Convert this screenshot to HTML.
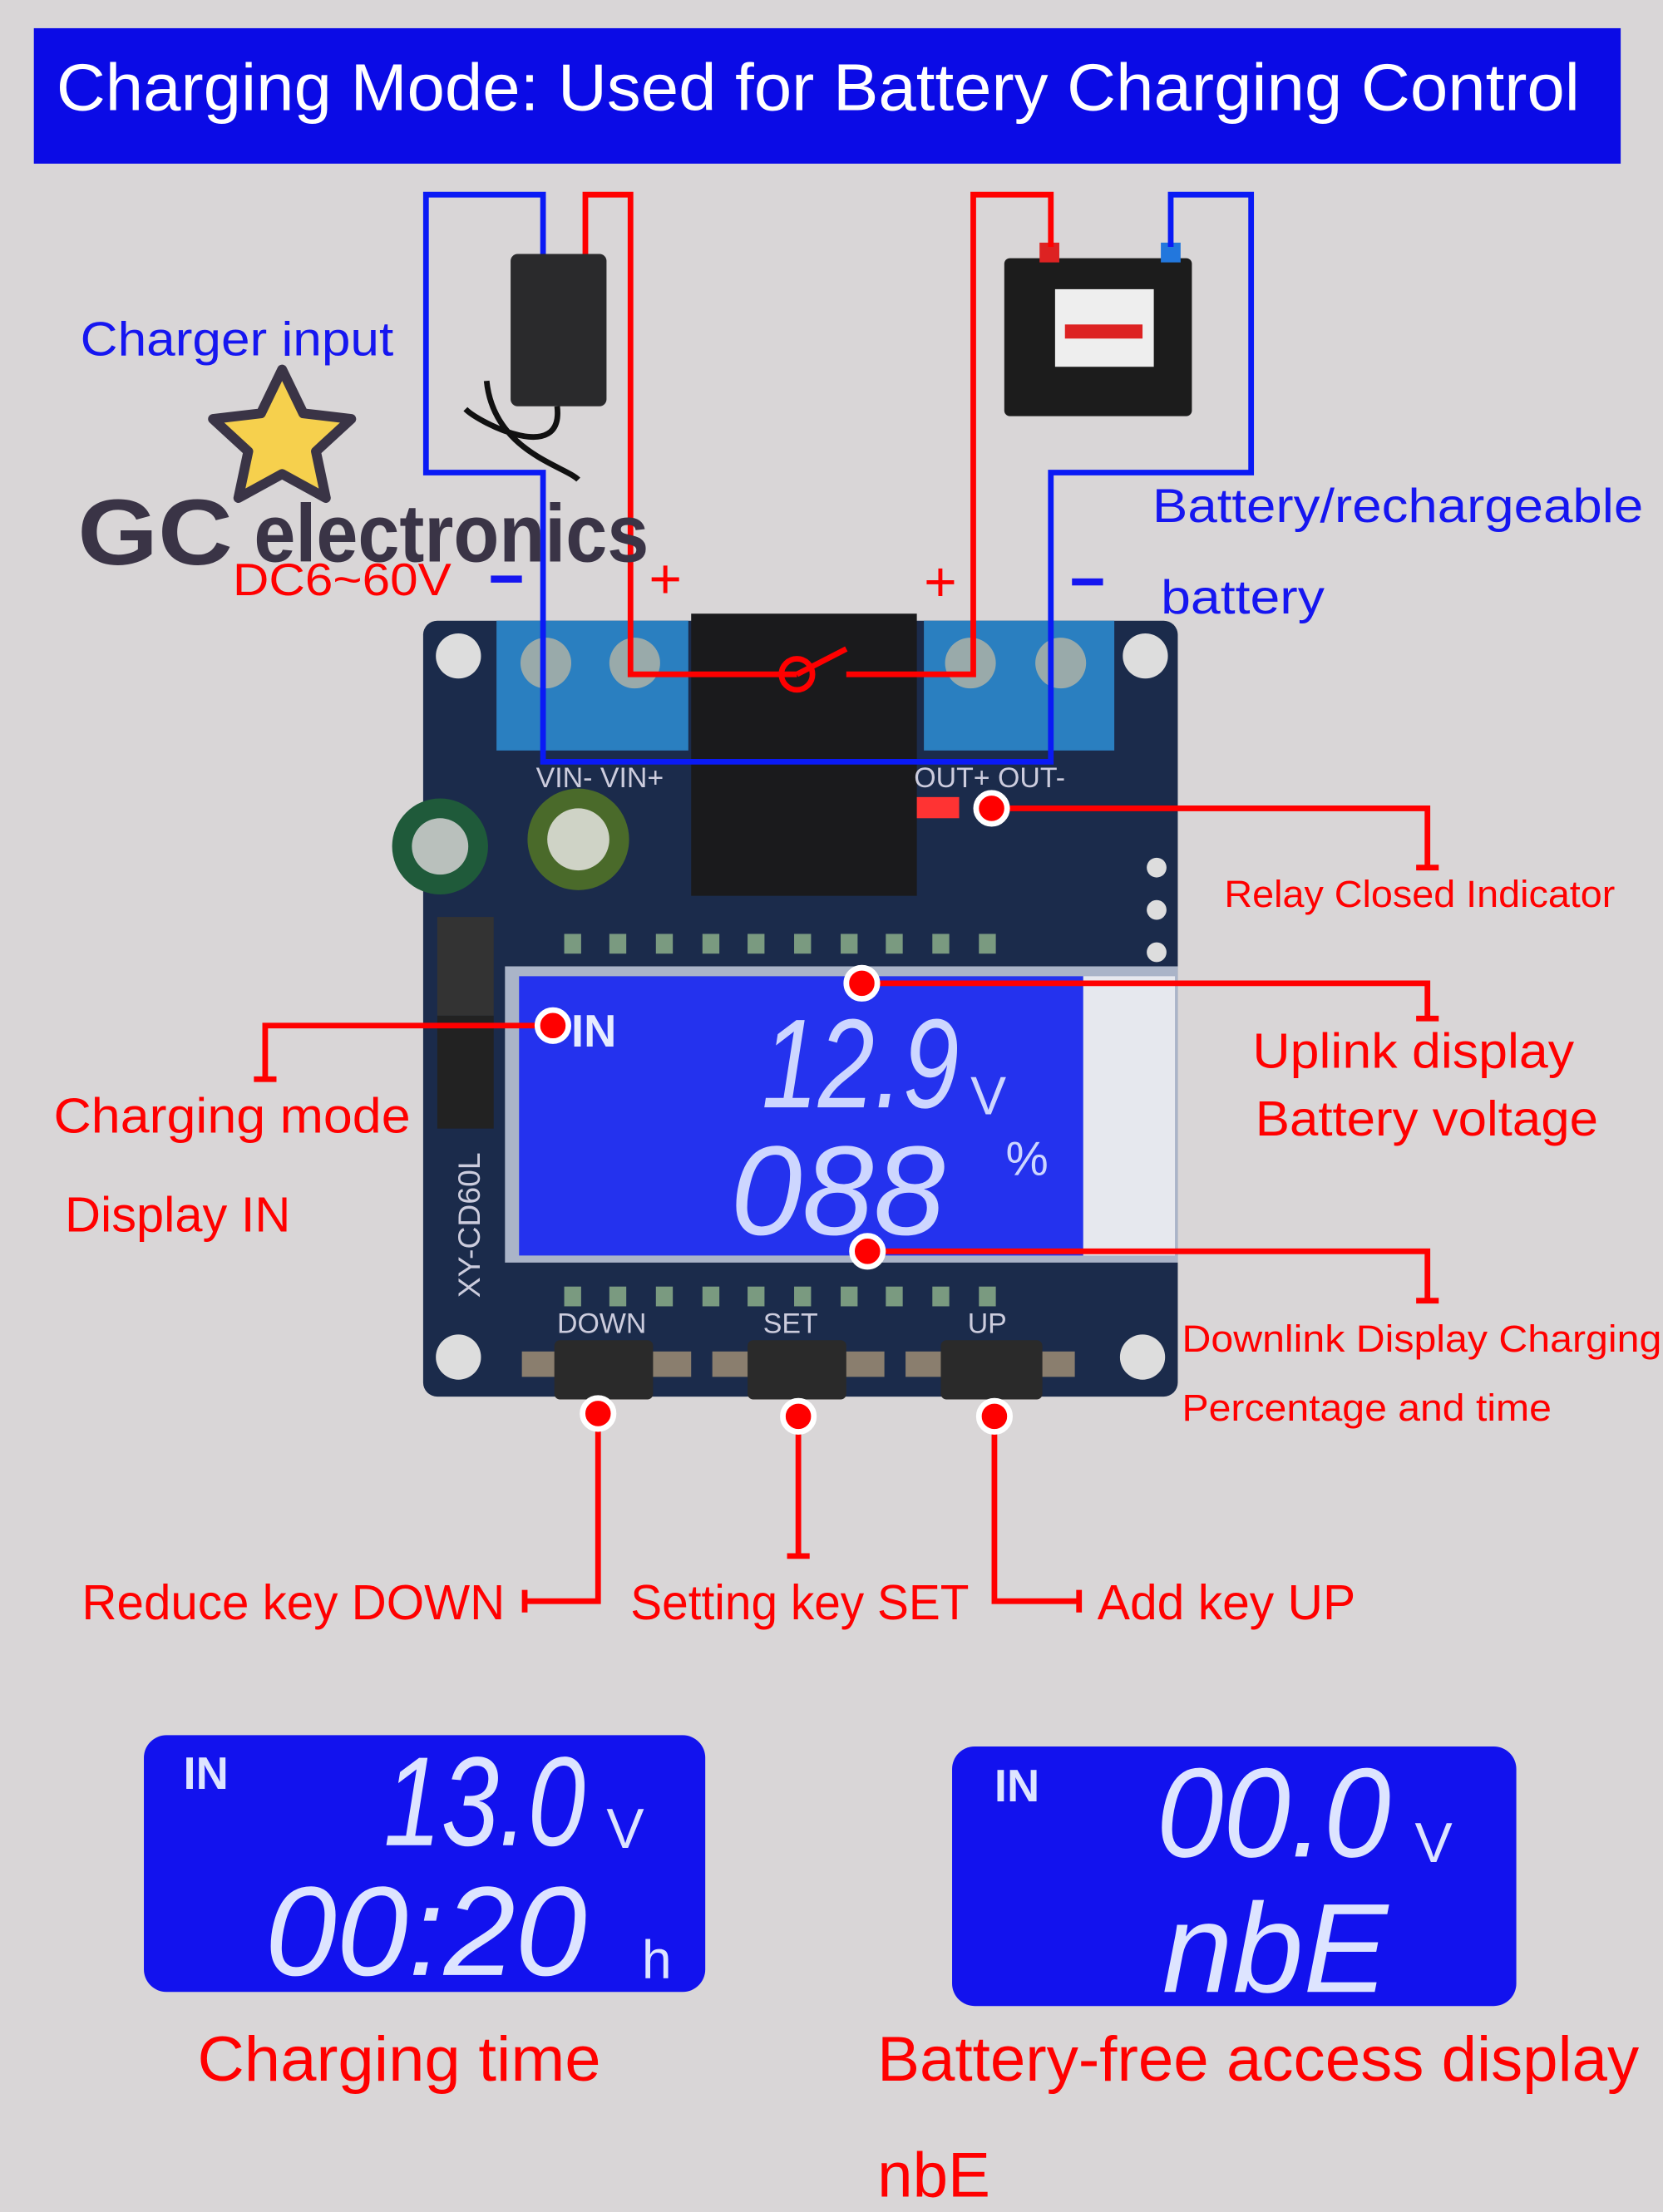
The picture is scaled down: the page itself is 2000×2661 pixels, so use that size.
<!DOCTYPE html>
<html><head><meta charset="utf-8"><style>
html,body{margin:0;padding:0;background:#d9d6d7;}
svg{display:block;}
text{font-family:"Liberation Sans","DejaVu Sans",sans-serif;}
</style></head><body>
<svg width="2000" height="2661" viewBox="0 0 1179 1568" preserveAspectRatio="none" xmlns="http://www.w3.org/2000/svg">
<rect width="1179" height="1568" fill="#d9d6d7"/>
<rect x="24" y="20" width="1125" height="96" fill="#0b0be6"/>
<text x="40" y="78" font-size="47" fill="#fff" textLength="1080" lengthAdjust="spacingAndGlyphs">Charging Mode: Used for Battery Charging Control</text>

<rect x="300" y="440" width="535" height="550" rx="10" fill="#1b2b4b"/>
<circle cx="325" cy="465" r="16" fill="#ddd"/><circle cx="812" cy="465" r="16" fill="#ddd"/>
<circle cx="325" cy="962" r="16" fill="#ddd"/><circle cx="810" cy="962" r="16" fill="#ddd"/>
<rect x="352" y="440" width="136" height="92" fill="#2a7fc0"/>
<circle cx="387" cy="470" r="18" fill="#9aa"/><circle cx="450" cy="470" r="18" fill="#9aa"/>
<rect x="655" y="440" width="135" height="92" fill="#2a7fc0"/>
<circle cx="688" cy="470" r="18" fill="#9aa"/><circle cx="752" cy="470" r="18" fill="#9aa"/>
<rect x="490" y="435" width="160" height="200" fill="#1a1a1c"/>
<text x="380" y="558" font-size="20" fill="#ccd">VIN- VIN+</text>
<text x="648" y="558" font-size="20" fill="#ccd">OUT+ OUT-</text>
<circle cx="312" cy="600" r="34" fill="#1f5a3a"/><circle cx="312" cy="600" r="20" fill="#b9c0bc"/>
<circle cx="410" cy="595" r="36" fill="#4a6a2a"/><circle cx="410" cy="595" r="22" fill="#cfd3c6"/>
<rect x="310" y="650" width="40" height="70" fill="#333"/>
<rect x="310" y="720" width="40" height="80" fill="#222"/>
<text x="340" y="920" font-size="22" fill="#ccd" transform="rotate(-90 340 920)">XY-CD60L</text>
<circle cx="820" cy="615" r="7" fill="#ddd"/><circle cx="820" cy="645" r="7" fill="#ddd"/><circle cx="820" cy="675" r="7" fill="#ddd"/>
<rect x="650" y="565" width="30" height="15" fill="#f33"/>
<g fill="#7a9a80">
<rect x="400" y="662" width="12" height="14"/><rect x="432" y="662" width="12" height="14"/><rect x="465" y="662" width="12" height="14"/><rect x="498" y="662" width="12" height="14"/><rect x="530" y="662" width="12" height="14"/><rect x="563" y="662" width="12" height="14"/><rect x="596" y="662" width="12" height="14"/><rect x="628" y="662" width="12" height="14"/><rect x="661" y="662" width="12" height="14"/><rect x="694" y="662" width="12" height="14"/>
<rect x="400" y="912" width="12" height="14"/><rect x="432" y="912" width="12" height="14"/><rect x="465" y="912" width="12" height="14"/><rect x="498" y="912" width="12" height="14"/><rect x="530" y="912" width="12" height="14"/><rect x="563" y="912" width="12" height="14"/><rect x="596" y="912" width="12" height="14"/><rect x="628" y="912" width="12" height="14"/><rect x="661" y="912" width="12" height="14"/><rect x="694" y="912" width="12" height="14"/>
</g>
<rect x="358" y="685" width="477" height="210" fill="#aab4c8"/>
<rect x="368" y="692" width="400" height="198" fill="#2432ee"/>
<rect x="768" y="692" width="65" height="198" fill="#e6e8ee"/>
<text x="405" y="742" font-size="32" font-weight="bold" fill="#e6ecff">IN</text>
<text x="540" y="785" font-size="90" fill="#cdd6ff" font-style="italic" textLength="140" lengthAdjust="spacingAndGlyphs">12.9</text>
<text x="688" y="790" font-size="38" fill="#cdd6ff">V</text>
<text x="518" y="875" font-size="90" fill="#cdd6ff" font-style="italic" textLength="152" lengthAdjust="spacingAndGlyphs">088</text>
<text x="713" y="833" font-size="34" fill="#cdd6ff">%</text>
<text x="395" y="945" font-size="20" fill="#ccd">DOWN</text><text x="541" y="945" font-size="20" fill="#ccd">SET</text><text x="686" y="945" font-size="20" fill="#ccd">UP</text>
<rect x="370" y="958" width="120" height="18" fill="#8a7e6e"/><rect x="505" y="958" width="122" height="18" fill="#8a7e6e"/><rect x="642" y="958" width="120" height="18" fill="#8a7e6e"/>
<rect x="393" y="950" width="70" height="42" rx="4" fill="#2a2a2a"/><rect x="530" y="950" width="70" height="42" rx="4" fill="#2a2a2a"/><rect x="667" y="950" width="72" height="42" rx="4" fill="#2a2a2a"/>

<rect x="362" y="180" width="68" height="108" rx="5" fill="#2a2a2c"/>
<path d="M395 288 C 400 330, 340 300, 330 290 M345 270 C 350 320, 400 330, 410 340" stroke="#111" stroke-width="4" fill="none"/>
<rect x="712" y="183" width="133" height="112" rx="4" fill="#1c1c1c"/>
<rect x="748" y="205" width="70" height="55" fill="#eee"/><rect x="755" y="230" width="55" height="10" fill="#d22"/>
<rect x="737" y="172" width="14" height="14" fill="#d22"/><rect x="823" y="172" width="14" height="14" fill="#27d"/>

<g fill="none" stroke-width="4">
<path d="M385 180 V138 H302 V335 H385 V540 H745 V335 H887 V138 H830 V175" stroke="#0a1af5"/>
<path d="M415 180 V138 H447 V478 H565 M565 478 L600 460 M600 478 H690 V138 H745 V175" stroke="#f00"/>
</g>
<circle cx="565" cy="478" r="11" fill="none" stroke="#f00" stroke-width="4"/>

<polygon points="200,262 215,293 249,297 224,320 231,353 200,336 169,353 176,320 151,297 185,293" fill="#f6d04d" stroke="#3a3446" stroke-width="7" stroke-linejoin="round"/>
<text x="55" y="400" font-size="66" font-weight="bold" fill="#3a3446" textLength="110" lengthAdjust="spacingAndGlyphs">GC</text>
<text x="180" y="398" font-size="58" font-weight="bold" fill="#3a3446" textLength="280" lengthAdjust="spacingAndGlyphs">electronics</text>

<text x="57" y="252" font-size="34" fill="#1616f0" textLength="222" lengthAdjust="spacingAndGlyphs">Charger input</text>
<text x="165" y="422" font-size="32" fill="#f00" textLength="155" lengthAdjust="spacingAndGlyphs">DC6~60V</text>
<rect x="348" y="408" width="22" height="5" fill="#1616f0"/>
<text x="460" y="424" font-size="40" fill="#f00">+</text>
<text x="655" y="426" font-size="40" fill="#f00">+</text>
<rect x="760" y="410" width="22" height="5" fill="#1616f0"/>
<text x="817" y="370" font-size="34" fill="#1616f0" textLength="348" lengthAdjust="spacingAndGlyphs">Battery/rechargeable</text>
<text x="823" y="435" font-size="34" fill="#1616f0" textLength="116" lengthAdjust="spacingAndGlyphs">battery</text>

<g fill="none" stroke="#f00" stroke-width="4">
<path d="M703 573 H1012 V615 M1004 615 H1020"/>
<path d="M611 697 H1012 V722 M1004 722 H1020"/>
<path d="M392 727 H188 V765 M180 765 H196"/>
<path d="M615 887 H1012 V922 M1004 922 H1020"/>
<path d="M424 1002 V1135 H372 M372 1127 V1143"/>
<path d="M566 1004 V1103 M558 1103 H574"/>
<path d="M705 1004 V1135 H765 M765 1127 V1143"/>
</g>
<g fill="#f00" stroke="#fff" stroke-width="4">
<circle cx="703" cy="573" r="11"/><circle cx="611" cy="697" r="11"/><circle cx="392" cy="727" r="11"/><circle cx="615" cy="887" r="11"/>
<circle cx="424" cy="1002" r="11"/><circle cx="566" cy="1004" r="11"/><circle cx="705" cy="1004" r="11"/>
</g>
<g fill="#f00">
<text x="868" y="643" font-size="27" textLength="277" lengthAdjust="spacingAndGlyphs">Relay Closed Indicator</text>
<text x="888" y="757" font-size="35" textLength="228" lengthAdjust="spacingAndGlyphs">Uplink display</text>
<text x="890" y="805" font-size="35" textLength="243" lengthAdjust="spacingAndGlyphs">Battery voltage</text>
<text x="38" y="803" font-size="35" textLength="253" lengthAdjust="spacingAndGlyphs">Charging mode</text>
<text x="46" y="873" font-size="35" textLength="160" lengthAdjust="spacingAndGlyphs">Display IN</text>
<text x="838" y="958" font-size="27" textLength="340" lengthAdjust="spacingAndGlyphs">Downlink Display Charging</text>
<text x="838" y="1007" font-size="27" textLength="262" lengthAdjust="spacingAndGlyphs">Percentage and time</text>
<text x="58" y="1148" font-size="35" textLength="300" lengthAdjust="spacingAndGlyphs">Reduce key DOWN</text>
<text x="447" y="1148" font-size="35" textLength="240" lengthAdjust="spacingAndGlyphs">Setting key SET</text>
<text x="778" y="1148" font-size="35" textLength="183" lengthAdjust="spacingAndGlyphs">Add key UP</text>
</g>

<rect x="102" y="1230" width="398" height="182" rx="16" fill="#1212ee"/>
<text x="130" y="1268" font-size="32" font-weight="bold" fill="#dde4ff">IN</text>
<text x="272" y="1308" font-size="90" fill="#dde4ff" font-style="italic" textLength="143" lengthAdjust="spacingAndGlyphs">13.0</text>
<text x="430" y="1310" font-size="40" fill="#dde4ff">V</text>
<text x="188" y="1400" font-size="90" fill="#dde4ff" font-style="italic" textLength="228" lengthAdjust="spacingAndGlyphs">00:20</text>
<text x="455" y="1402" font-size="38" fill="#dde4ff">h</text>
<rect x="675" y="1238" width="400" height="184" rx="16" fill="#1212ee"/>
<text x="705" y="1277" font-size="32" font-weight="bold" fill="#dde4ff">IN</text>
<text x="820" y="1316" font-size="90" fill="#dde4ff" font-style="italic" textLength="166" lengthAdjust="spacingAndGlyphs">00.0</text>
<text x="1003" y="1320" font-size="40" fill="#dde4ff">V</text>
<text x="824" y="1412" font-size="90" fill="#dde4ff" font-style="italic" textLength="160" lengthAdjust="spacingAndGlyphs">nbE</text>

<text x="140" y="1475" font-size="45" fill="#f00" textLength="286" lengthAdjust="spacingAndGlyphs">Charging time</text>
<text x="622" y="1475" font-size="45" fill="#f00" textLength="540" lengthAdjust="spacingAndGlyphs">Battery-free access display</text>
<text x="622" y="1557" font-size="45" fill="#f00">nbE</text>
</svg>
</body></html>
